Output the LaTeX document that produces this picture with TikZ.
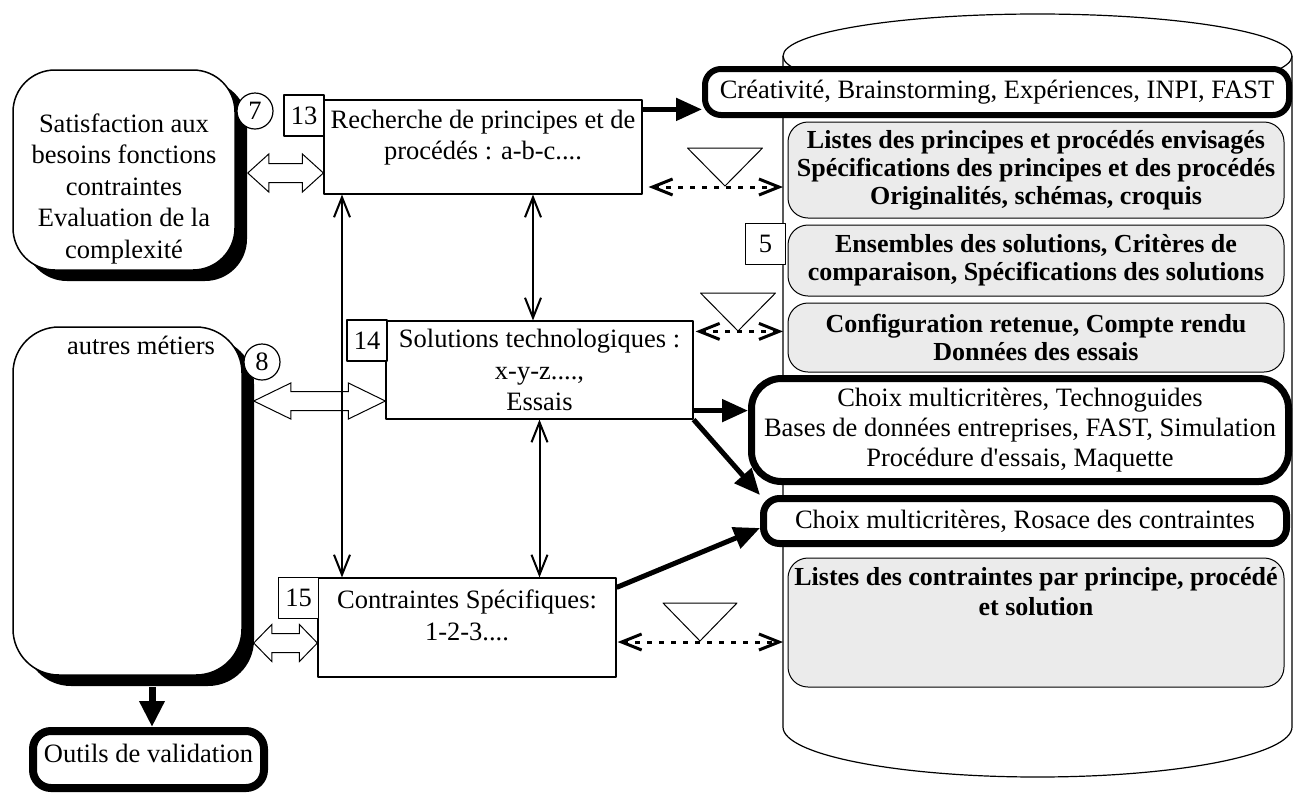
\documentclass[tikz,border=0pt]{standalone}
\usepackage{fontspec}
\setmainfont{Liberation Serif}
\usetikzlibrary{arrows.meta,calc,positioning,shadows}

\tikzset{
  txt/.style={font=\fontsize{26.5}{31.5}\selectfont, align=center, inner sep=0pt},
  procbox/.style={draw, line width=1.2pt, fill=white, inner sep=0pt},
  numbox/.style={draw, line width=1.5pt, fill=white, inner sep=0pt, minimum width=40, minimum height=41, txt},
  numcirc/.style={draw, circle, line width=1.2pt, fill=white, inner sep=0pt, minimum size=36, txt},
  softbox/.style={draw, line width=1.5pt, fill=white, rounded corners=42pt, drop shadow={shadow xshift=12pt,shadow yshift=-11pt,fill=black,opacity=1}},
  thickbox/.style={draw, line width=7pt, fill=white, rounded corners=16pt, txt, font=\fontsize{26.5}{30}\selectfont},
  infobox/.style={draw, line width=1pt, fill=black!8, rounded corners=20pt, txt, font=\fontsize{26}{28}\selectfont\bfseries},
  bigarrow/.style={line width=5pt, -{Triangle[length=26pt,width=22pt]}},
  twoway/.style={line width=2pt, {Straight Barb[length=20pt,width=16pt]}-{Straight Barb[length=20pt,width=16pt]}},
  dotlink/.style={line width=3pt, dash pattern=on 5pt off 7pt, {Straight Barb[length=20pt,width=16pt]}-{Straight Barb[length=20pt,width=16pt]}},
  funnel/.style={line width=1pt}
}

% hollow double arrow: from, to, head length, head half width
\newcommand{\fatlink}[4]{%
  \draw[line width=1pt,line join=miter] let \p1=(#1), \p2=(#2) in
    (\p1) -- (\x1+#3,\y1+#4) -- (\x1+#3,\y1+9.5pt) -- (\x2-#3,\y2+9.5pt)
    -- (\x2-#3,\y2+#4) -- (\p2) -- (\x2-#3,\y2-#4) -- (\x2-#3,\y2-9.5pt)
    -- (\x1+#3,\y1-9.5pt) -- (\x1+#3,\y1-#4) -- cycle;}

\begin{document}
\begin{tikzpicture}[x=1pt,y=-1pt,line join=round]
\useasboundingbox (0,0) rectangle (1293,793);

% base de donnees
\coordinate (cyl) at (783,0);
\draw[line width=1.2pt] (1037.5,56) ellipse[x radius=254.5pt,y radius=42pt];
\draw[line width=1.2pt] (783,56) -- (783,727)
  arc[start angle=180,end angle=360,x radius=254.5pt,y radius=50pt] -- (1292,56);

% colonne de droite
\node[thickbox, line width=6pt, minimum width=584, minimum height=46] (crea) at (997,92)
  {Créativité, Brainstorming, Expériences, INPI, FAST};
\node[infobox, minimum width=496, minimum height=96] (princ) at (1036,170)
  {Listes des principes et procédés envisagés\\Spécifications des principes et des procédés\\Originalités, schémas, croquis};
\node[infobox, minimum width=496, minimum height=71] (ensem) at (1036,260.5)
  {Ensembles des solutions, Critères de\\comparaison, Spécifications des solutions};
\node[numbox] (n5) at (765.5,244) {5};
\node[infobox, minimum width=496, minimum height=69] (config) at (1036,337.5)
  {Configuration retenue, Compte rendu\\Données des essais};
\node[thickbox, rounded corners=30pt, minimum width=537, minimum height=103] (choix) at (1020,430)
  {Choix multicritères, Technoguides\\Bases de données entreprises, FAST, Simulation\\Procédure d\textquotesingle essais, Maquette};
\node[thickbox, minimum width=523, minimum height=45] (rosa) at (1025,521)
  {Choix multicritères, Rosace des contraintes};
\node[infobox, minimum width=496, minimum height=129] (lcont) at (1036,622.5) {};
\node[txt, font=\fontsize{26}{30}\selectfont\bfseries] (lcontT) at (1036,592)
  {Listes des contraintes par principe, procédé\\et solution};

% colonne de gauche
\node[softbox, minimum width=222, minimum height=200] (satis) at (124,170) {};
\node[txt] (satisT) at (124,188.5)
  {Satisfaction aux\\besoins fonctions\\contraintes\\Evaluation de la\\complexité};
\node[softbox, rounded corners=46pt, minimum width=229, minimum height=348] (autres) at (127.5,501) {};
\node[txt] (autresT) at (141,345) {autres métiers};
\node[numcirc] (c7) at (255,111) {7};
\node[numcirc] (c8) at (262,362) {8};
\node[thickbox, line width=8pt, rounded corners=18pt, minimum width=231, minimum height=57] (outils) at (148.5,759.5) {};
\node[txt] (outilsT) at (148.5,753) {Outils de validation};

% etapes
\node[procbox, minimum width=318, minimum height=94] (rech) at (483,147) {};
\node[txt] (rechT) at (483,137.5) {Recherche de principes et de\\procédés : a-b-c....};
\node[numbox] (n13) at (304,115.5) {13};
\node[procbox, minimum width=307, minimum height=98, txt] (sol) at (539.5,370)
  {Solutions technologiques :\\x-y-z....,\\Essais};
\node[numbox] (n14) at (367,340.5) {14};
\node[procbox, minimum width=298, minimum height=99] (cont) at (467,627.5) {};
\node[txt] (contT) at (467,615.5) {Contraintes Spécifiques:\\1-2-3....};
\node[numbox] (n15) at (298.5,598) {15};

% liaisons
\coordinate (vl) at (342,0);
\draw[twoway] (rech.south -| vl) -- (cont.north -| vl);
\draw[twoway] ($(rech.south)+(50,0)$) -- ($(sol.north -| rech.south)+(50,0)$);
\draw[twoway] (sol.south) -- (cont.north -| sol.south);

\coordinate (h1b) at ($(rech.west)+(0,26)$);
\coordinate (h1a) at ($(satis.east |- h1b)+(12,0)$);
\fatlink{h1a}{h1b}{21pt}{19pt}
\coordinate (h2b) at ($(sol.west)+(0,31)$);
\coordinate (h2a) at ($(autres.east |- h2b)+(11,0)$);
\fatlink{h2a}{h2b}{37pt}{18pt}
\coordinate (h3b) at ($(cont.west)+(0,15.5)$);
\coordinate (h3a) at ($(autres.east |- h3b)+(11,0)$);
\fatlink{h3a}{h3b}{18pt}{18.5pt}

\coordinate (t1) at ($(rech.north east)+(0,10)$);
\draw[bigarrow] (t1) -- (crea.west |- t1);
\coordinate (t2) at ($(sol.south east)+(0,-9)$);
\draw[bigarrow] (t2) -- (choix.west |- t2);
\draw[bigarrow] (sol.south east) -- (rosa.north west);
\coordinate (t3) at ($(cont.north east)+(0,10)$);
\draw[bigarrow] (t3) -- ($(rosa.west)+(0,7)$);
\coordinate (t4) at ($(autres.south)+(24.5,11)$);
\draw[line width=7pt,-{Triangle[length=26pt,width=24pt]}] (t4) -- (outils.north -| t4);

% echanges avec la base
\coordinate (d1) at ($(rech.east)+(6,40)$);
\draw[dotlink] (d1) -- (cyl |- d1);
\draw[funnel] (725,186) -- ++(-37.5,-38) -- ++(75,0) -- cycle;
\coordinate (d2) at ($(sol.north east)+(2,11)$);
\draw[dotlink] (d2) -- (cyl |- d2);
\draw[funnel] (738,331) -- ++(-37.5,-38) -- ++(75,0) -- cycle;
\coordinate (d3) at ($(cont.east)+(1,14.5)$);
\draw[dotlink] (d3) -- (cyl |- d3);
\draw[funnel] (700,641) -- ++(-37,-38) -- ++(74,0) -- cycle;
\end{tikzpicture}
\end{document}
